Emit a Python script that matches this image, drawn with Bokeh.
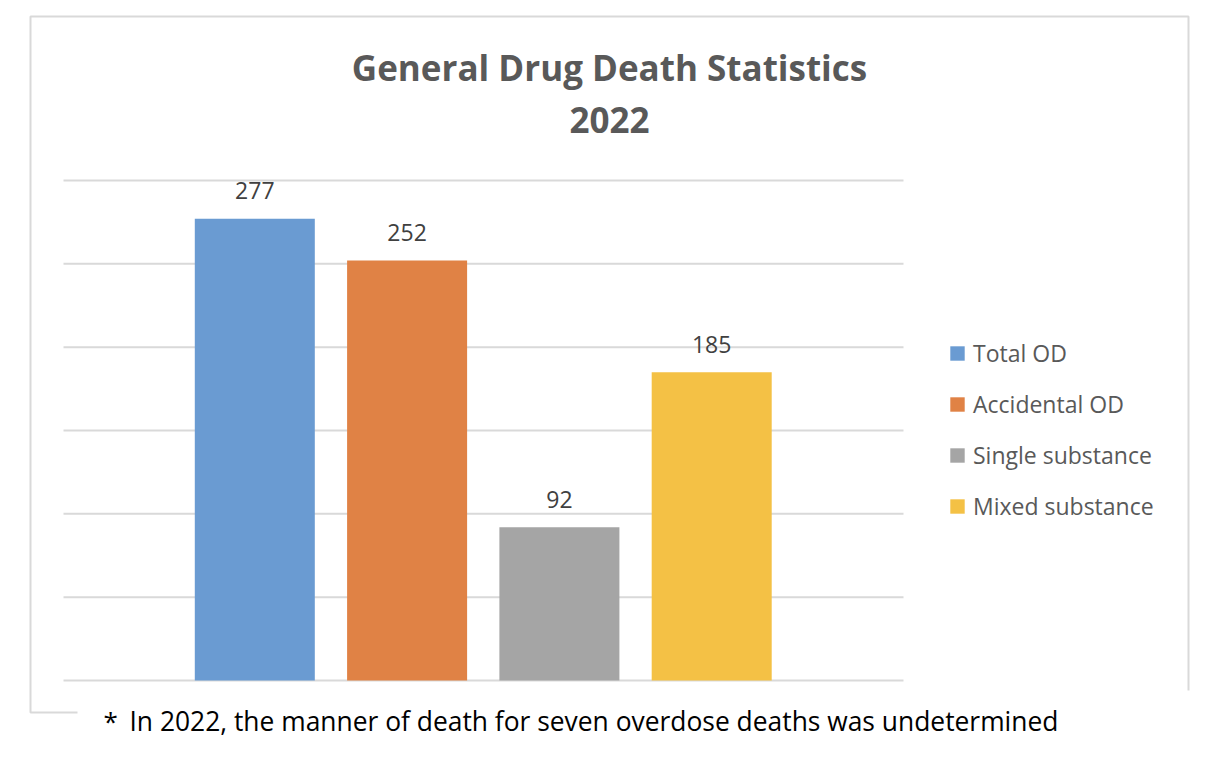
from bokeh.plotting import figure
from bokeh.models import ColumnDataSource, Range1d, Label, Legend, LegendItem
from bokeh.embed import file_html
from bokeh.resources import INLINE
from bokeh.core.properties import value

# ---------------- data ----------------
categories = ["Total OD", "Accidental OD", "Single substance", "Mixed substance"]
deaths = [277, 252, 92, 185]
bar_colors = ["#6A9BD2", "#E08245", "#A5A5A5", "#F4C145"]
grid_ticks = [0, 50, 100, 150, 200, 250, 300]
title_lines = ["General Drug Death Statistics", "2022"]
footnote_mark = "*"
footnote = "In 2022, the manner of death for seven overdose deaths was undetermined"

# ---------------- geometry (page pixels) ----------------
W, H = 1220, 764
CAT0_PX = 254.3       # centre of first bar
CAT_STEP_PX = 152.3   # distance between bar centres
BASE_PX = 680.0       # baseline (value 0)
PX_PER_UNIT = 500.0 / 300.0

def dx(px):
    return (px - CAT0_PX) / CAT_STEP_PX

def dy(py):
    return (BASE_PX - py) / PX_PER_UNIT

FONT = "Open Sans"

p = figure(width=W, height=H, output_backend="svg", toolbar_location=None,
           x_range=Range1d(dx(0), dx(W)),
           y_range=Range1d(dy(H), dy(0)),
           x_axis_location=None, y_axis_location=None,
           min_border=0, tools="")
p.outline_line_color = None
p.xgrid.visible = False
p.ygrid.visible = False
p.background_fill_color = "white"
p.border_fill_color = "white"

# chart frame (partially hidden at the bottom by the footnote)
frame_x = [dx(77), dx(30), dx(30), dx(1188), dx(1188)]
frame_y = [dy(712), dy(712), dy(16), dy(16), dy(690)]
p.line(frame_x, frame_y, line_color="#d9d9d9", line_width=2)

# gridlines
gx0 = dx(63)
gx1 = dx(903)
p.segment(x0=[gx0] * len(grid_ticks), x1=[gx1] * len(grid_ticks),
          y0=grid_ticks, y1=grid_ticks, line_color="#d9d9d9", line_width=2)

xs = list(range(len(categories)))
src = ColumnDataSource(dict(x=xs, value=deaths, cat=categories, color=bar_colors,
                            label=[str(v) for v in deaths]))

bars = p.vbar(x="x", top="value", bottom=0, width=0.788, source=src,
              fill_color="color", line_color=None)

p.text(x="x", y="value", text="label", source=src, text_align="center",
       text_baseline="alphabetic", y_offset=-28, text_font=value(FONT),
       text_font_size="23px", text_color="#404040")

legend = Legend(items=[LegendItem(label=c, renderers=[bars], index=i)
                       for i, c in enumerate(categories)],
                location=(948, H - 506 - 20),
                border_line_color=None, background_fill_alpha=0,
                padding=0, margin=0, spacing=11,
                glyph_width=18, glyph_height=18, label_standoff=7,
                label_height=40,
                label_text_font=FONT, label_text_font_size="23px",
                label_text_color="#595959")
p.add_layout(legend)

# title
cx = dx(609)
p.add_layout(Label(x=cx, y=dy(67), text=title_lines[0], text_align="center",
                   text_baseline="alphabetic", text_font=FONT,
                   text_font_size="35px", text_font_style="bold",
                   text_color="#595959"))
p.add_layout(Label(x=cx, y=dy(119), text=title_lines[1], text_align="center",
                   text_baseline="alphabetic", text_font=FONT,
                   text_font_size="35px", text_font_style="bold",
                   text_color="#595959"))

# footnote
p.add_layout(Label(x=dx(103), y=dy(720), text=footnote_mark, text_align="left",
                   text_baseline="alphabetic", text_font=FONT,
                   text_font_size="26px", text_color="#000000"))
p.add_layout(Label(x=dx(129), y=dy(720), text=footnote, text_align="left",
                   text_baseline="alphabetic", text_font=FONT,
                   text_font_size="26.4px", text_color="#000000"))

open("out.html", "w").write(file_html(p, INLINE))
